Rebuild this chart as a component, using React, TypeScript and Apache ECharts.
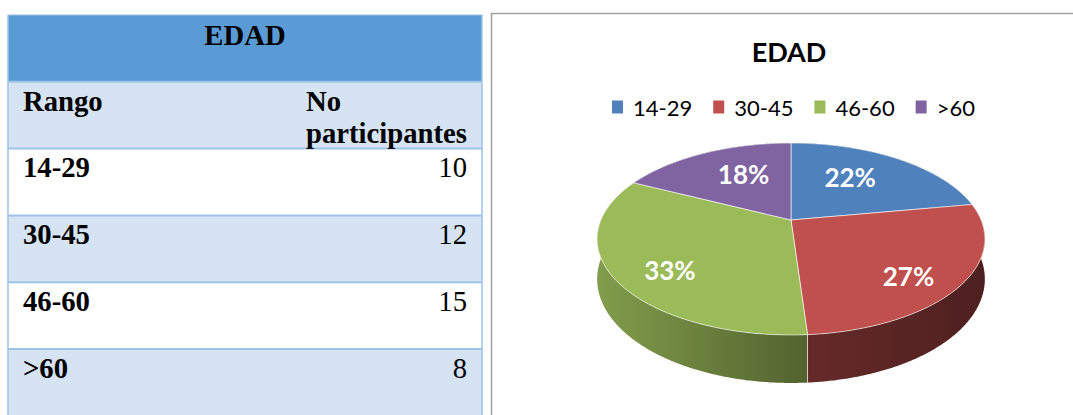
import React, { useEffect, useRef } from 'react';
import * as echarts from 'echarts';

// ---------- data ----------
const chartTitle = 'EDAD';
const tableTitle = 'EDAD';
const categories = ['14-29', '30-45', '46-60', '>60'];
const participants = [10, 12, 15, 8];
const columnHeaders = ['Rango', 'No', 'participantes'];
const palette = ['#4F81BD', '#C0504D', '#9BBB59', '#8064A2'];

// ---------- 3D pie geometry (layout) ----------
const CX = 791;
const CY = 220;
const A = 190; // horizontal radius factor
const B = 92.2; // vertical radius factor
const K = 0.198; // perspective
const H = 38.5; // thickness
const SIDE_X0 = 597;
const SIDE_X1 = 985;

function proj(r: number, deg: number): [number, number] {
  const t = (deg * Math.PI) / 180;
  const s = Math.sin(t);
  const c = Math.cos(t);
  const d = 1 + K * r * c;
  return [CX + (A * r * s) / d, CY - (B * r * c) / d];
}
function depthAt(deg: number) {
  const c = Math.cos((deg * Math.PI) / 180);
  return H / (1 + K * c);
}
function arcPts(a0: number, a1: number, bottom: boolean) {
  const n = Math.max(2, Math.ceil(Math.abs(a1 - a0) * 2));
  const pts: number[][] = [];
  for (let i = 0; i <= n; i++) {
    const a = a0 + ((a1 - a0) * i) / n;
    const p = proj(1, a);
    pts.push([p[0], p[1] + (bottom ? depthAt(a) : 0)]);
  }
  return pts;
}
function shade(hex: string, f: number) {
  const n = parseInt(hex.slice(1), 16);
  const r = Math.round(((n >> 16) & 255) * f);
  const g = Math.round(((n >> 8) & 255) * f);
  const b = Math.round((n & 255) * f);
  return `rgb(${r},${g},${b})`;
}
function sideGradient(hex: string) {
  return {
    type: 'linear',
    x: SIDE_X0,
    y: 0,
    x2: SIDE_X1,
    y2: 0,
    global: true,
    colorStops: [
      { offset: 0, color: shade(hex, 0.84) },
      { offset: 0.54, color: shade(hex, 0.53) },
      { offset: 1, color: shade(hex, 0.4) },
    ],
  };
}

const total = participants.reduce((a, b) => a + b, 0);
const slices = participants.map((v, i) => {
  const before = participants.slice(0, i).reduce((a, b) => a + b, 0);
  return {
    start: (before / total) * 360,
    end: ((before + v) / total) * 360,
    pct: Math.round((v / total) * 100),
    idx: i,
  };
});

function labelPos(mid: number): [number, number] {
  const c = Math.cos((mid * Math.PI) / 180);
  const r = 0.63 - 0.14 * c;
  const p = proj(r, mid);
  return [p[0], CY + (p[1] - CY) * 1.25];
}

// ---------- table graphic ----------
const TX = 8;
const TW = 474;
const TY = 15;
const ROW_H = 66.8;
const LIGHT = '#D5E3F3';
const HEADER = '#5B9BD5';
const GRID = '#9DC3E6';
const serif = "'Liberation Serif', 'Times New Roman', serif";

function txt(text: string, x: number, y: number, align: string, bold: boolean) {
  return {
    type: 'text',
    x,
    y,
    z: 10,
    style: {
      text,
      fill: '#000',
      fontFamily: serif,
      fontSize: 28.7,
      fontWeight: bold ? 'bold' : 'normal',
      align,
      textAlign: align,
      verticalAlign: 'middle',
      textVerticalAlign: 'middle',
    },
  };
}

function buildTable() {
  const els: any[] = [];
  const fills = [HEADER, LIGHT, '#FFFFFF', LIGHT, '#FFFFFF', LIGHT];
  fills.forEach((f, i) => {
    const y = TY + i * ROW_H;
    els.push({
      type: 'rect',
      z: 1,
      shape: { x: TX, y, width: TW, height: i === fills.length - 1 ? 420 - y : ROW_H },
      style: { fill: f },
    });
  });
  for (let i = 0; i < fills.length; i++) {
    const y = TY + i * ROW_H;
    els.push({
      type: 'line',
      z: 2,
      shape: { x1: TX, y1: y, x2: TX + TW, y2: y },
      style: { stroke: GRID, lineWidth: i === 0 ? 1 : 2 },
    });
  }
  els.push({ type: 'line', z: 2, shape: { x1: TX, y1: TY, x2: TX, y2: 420 }, style: { stroke: GRID, lineWidth: 1.5 } });
  els.push({ type: 'line', z: 2, shape: { x1: TX + TW, y1: TY, x2: TX + TW, y2: 420 }, style: { stroke: GRID, lineWidth: 1.5 } });

  els.push(txt(tableTitle, TX + TW / 2, TY + 19.5, 'center', true));
  const r1 = TY + ROW_H;
  els.push(txt(columnHeaders[0], 23, r1 + 18.7, 'left', true));
  els.push(txt(columnHeaders[1], 306, r1 + 18.7, 'left', true));
  els.push(txt(columnHeaders[2], 306, r1 + 50.7, 'left', true));
  categories.forEach((c, i) => {
    const y = TY + (i + 2) * ROW_H + 18.5;
    els.push(txt(c, 23, y, 'left', true));
    els.push(txt(String(participants[i]), 467, y, 'right', false));
  });
  return els;
}

function buildOption() {
  const sideSeries: any = {
    type: 'custom',
    name: '_sides',
    coordinateSystem: 'none',
    silent: true,
    z: 2,
    data: slices.map((s) => [s.start, s.end, s.idx]),
    renderItem: (_params: any, api: any) => {
      const a0 = api.value(0);
      const a1 = api.value(1);
      const idx = api.value(2);
      const top = arcPts(a0, a1, false);
      const bot = arcPts(a0, a1, true).reverse();
      const children: any[] = [
        {
          type: 'polygon',
          shape: { points: top.concat(bot) },
          style: { fill: sideGradient(palette[idx]), stroke: null },
        },
      ];
      [a0, a1].forEach((a) => {
        if (a > 101 && a < 259) {
          const p = proj(1, a);
          children.push({
            type: 'line',
            shape: { x1: p[0], y1: p[1], x2: p[0], y2: p[1] + depthAt(a) },
            style: { stroke: 'rgba(255,255,255,0.55)', lineWidth: 1 },
          });
        }
      });
      return { type: 'group', children };
    },
  };

  const topSeries = slices.map((s) => ({
    type: 'custom',
    name: categories[s.idx],
    coordinateSystem: 'none',
    silent: true,
    z: 3,
    itemStyle: { color: palette[s.idx] },
    data: [[s.start, s.end, s.pct, s.idx]],
    renderItem: (_params: any, api: any) => {
      const a0 = api.value(0);
      const a1 = api.value(1);
      const pct = api.value(2);
      const idx = api.value(3);
      const pts = [[CX, CY] as number[]].concat(arcPts(a0, a1, false));
      const lp = labelPos((a0 + a1) / 2);
      return {
        type: 'group',
        children: [
          {
            type: 'polygon',
            shape: { points: pts },
            style: { fill: palette[idx], stroke: 'rgba(255,255,255,0.6)', lineWidth: 1 },
          },
          {
            type: 'text',
            x: lp[0],
            y: lp[1],
            style: {
              text: pct + '%',
              fill: '#FFFFFF',
              fontFamily: 'Lato, sans-serif',
              fontSize: 26,
              fontWeight: 'bold',
              align: 'center',
              textAlign: 'center',
              verticalAlign: 'middle',
              textVerticalAlign: 'middle',
            },
          },
        ],
      };
    },
  }));

  return {
    animation: false,
    backgroundColor: '#FFFFFF',
    legend: {
      data: categories,
      left: 607,
      top: 91,
      orient: 'horizontal',
      icon: 'rect',
      itemWidth: 11,
      itemHeight: 13,
      itemGap: 21,
      selectedMode: false,
      textStyle: { fontFamily: 'Lato, sans-serif', fontSize: 22, color: '#000', padding: [0, 0, 0, 5] },
    },
    graphic: {
      elements: [
        {
          type: 'rect',
          z: 0,
          shape: { x: 491.5, y: 13.5, width: 700, height: 500 },
          style: { fill: 'none', stroke: '#A0A0A0', lineWidth: 1.5 },
        },
        {
          type: 'text',
          x: 789,
          y: 51.6,
          z: 10,
          style: {
            text: chartTitle,
            fill: '#000',
            fontFamily: 'Lato, sans-serif',
            fontSize: 27,
            fontWeight: 'bold',
            align: 'center',
            textAlign: 'center',
            verticalAlign: 'middle',
            textVerticalAlign: 'middle',
          },
        },
        ...buildTable(),
      ],
    },
    series: [sideSeries, ...topSeries],
  };
}

export default function App() {
  const ref = useRef<HTMLDivElement>(null);
  useEffect(() => {
    const chart = echarts.init(ref.current!, null, { renderer: 'svg' });
    chart.setOption(buildOption() as any);
    return () => chart.dispose();
  }, []);
  return (
    <div
      ref={ref}
      style={{ position: 'absolute', left: 0, top: 0, width: 1073, height: 415 }}
    />
  );
}
